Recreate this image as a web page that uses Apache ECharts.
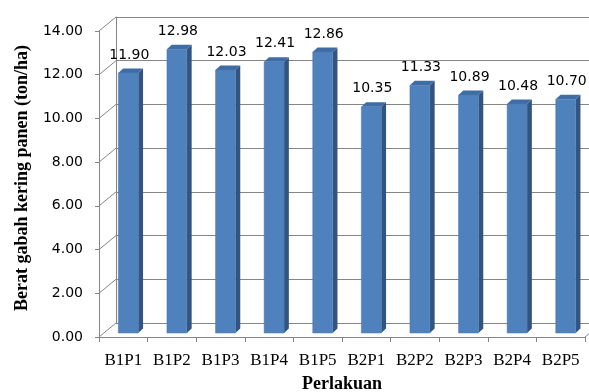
<!DOCTYPE html>
<html>
<head>
<meta charset="utf-8">
<script src="https://cdn.jsdelivr.net/npm/echarts@6/dist/echarts.min.js"></script>
<style>html,body{margin:0;padding:0;background:#fff}#c{width:589px;height:392px}</style>
</head>
<body>
<div id="c"></div>
<script>
const categories = ['B1P1', 'B1P2', 'B1P3', 'B1P4', 'B1P5', 'B2P1', 'B2P2', 'B2P3', 'B2P4', 'B2P5'];
const values = [11.90, 12.98, 12.03, 12.41, 12.86, 10.35, 11.33, 10.89, 10.48, 10.70];
const yTicks = [0, 2, 4, 6, 8, 10, 12, 14];
const xTitle = 'Perlakuan';
const yTitle = 'Berat gabah kering panen (ton/ha)';

const GRAY = '#868686';
// 3D depth offsets (pixels)
const WALL_DX = 17, WALL_DY = -14;
const BAR_FX = 5, BAR_FY = -4;
const BAR_DX = 4.8, BAR_DY = -4.5;

const chart = echarts.init(document.getElementById('c'), null, {renderer: 'canvas'});

function renderFrame(params, api) {
  const cs = params.coordSys;
  const v = api.value(1);
  const y = api.coord([0, v])[1];
  const children = [{
    type: 'line',
    shape: {x1: cs.x, y1: y, x2: cs.x + WALL_DX, y2: y + WALL_DY},
    style: {stroke: GRAY, lineWidth: 1}
  }];
  if (v === 0) {
    children.push({
      type: 'line',
      shape: {x1: cs.x + cs.width, y1: y, x2: cs.x + cs.width + WALL_DX, y2: y + WALL_DY},
      style: {stroke: GRAY, lineWidth: 1}
    });
  }
  return {type: 'group', children};
}

function renderBar(params, api) {
  const i = api.value(0), v = api.value(1);
  const top = api.coord([i, v]);
  const base = api.coord([i, 0]);
  const w = api.size([1, 0])[0] * 0.41;
  const x0 = base[0] - w / 2 + BAR_FX;
  const ty = top[1] + BAR_FY;
  const by = base[1] + BAR_FY;
  return {
    type: 'group',
    children: [
      {type: 'polygon', shape: {points: [[x0 + w, ty], [x0 + w + BAR_DX, ty + BAR_DY], [x0 + w + BAR_DX, by + BAR_DY], [x0 + w, by]]},
        style: {fill: '#31557f'}},
      {type: 'polygon', shape: {points: [[x0, ty], [x0 + w, ty], [x0 + w + BAR_DX, ty + BAR_DY], [x0 + BAR_DX, ty + BAR_DY]]},
        style: {fill: '#3f6ca4'}},
      {type: 'rect', shape: {x: x0, y: ty, width: w, height: by - ty},
        style: {fill: '#4f81bd', stroke: '#4a7ab4', lineWidth: 0.5}},
      {type: 'text', style: {text: v.toFixed(2), x: x0 + w / 2 + 1, y: ty - 18, align: 'center', verticalAlign: 'middle',
        font: '14px "DejaVu Sans"', fill: '#000'}}
    ]
  };
}

chart.setOption({
  animation: false,
  backgroundColor: '#ffffff',
  grid: [
    {left: 99, top: 31, width: 486, height: 306, outerBoundsMode: 'none', containLabel: false},
    {left: 116, top: 17, width: 486, height: 306, outerBoundsMode: 'none', containLabel: false}
  ],
  xAxis: [
    {
      gridIndex: 0, type: 'category', data: categories,
      axisLine: {show: true, lineStyle: {color: GRAY, width: 1}},
      axisTick: {show: true, length: 5, lineStyle: {color: GRAY}},
      axisLabel: {interval: 0, margin: 15, fontFamily: '"Liberation Serif"', fontSize: 17, color: '#000'},
      splitLine: {show: false},
      name: xTitle, nameLocation: 'middle', nameGap: 38,
      nameTextStyle: {fontFamily: '"Liberation Serif"', fontWeight: 'bold', fontSize: 18, color: '#000'}
    },
    {gridIndex: 1, type: 'category', data: categories, show: false}
  ],
  yAxis: [
    {
      gridIndex: 0, type: 'value', min: 0, max: 14, interval: 2,
      axisLine: {show: true, lineStyle: {color: GRAY, width: 1}},
      axisTick: {show: true, length: 4, lineStyle: {color: GRAY}},
      axisLabel: {margin: 16, fontFamily: '"DejaVu Sans"', fontSize: 14, color: '#000',
        formatter: v => v.toFixed(2)},
      splitLine: {show: false},
      name: yTitle, nameLocation: 'middle', nameGap: 68,
      nameTextStyle: {fontFamily: '"Liberation Serif"', fontWeight: 'bold', fontSize: 18, color: '#000',
        padding: [0, 0, 0, 12]}
    },
    {
      gridIndex: 1, type: 'value', min: 0, max: 14, interval: 2,
      axisLine: {show: true, lineStyle: {color: GRAY, width: 1}},
      axisTick: {show: false}, axisLabel: {show: false},
      splitLine: {show: true, lineStyle: {color: GRAY, width: 1}}
    }
  ],
  series: [
    {
      type: 'custom', name: 'frame', xAxisIndex: 0, yAxisIndex: 0, silent: true, clip: false, z: 1,
      data: yTicks.map(v => [0, v]),
      renderItem: renderFrame
    },
    {
      type: 'custom', name: 'Berat', xAxisIndex: 0, yAxisIndex: 0, clip: false, z: 3,
      data: values.map((v, i) => [i, v]),
      renderItem: renderBar
    }
  ]
});
</script>
</body>
</html>
